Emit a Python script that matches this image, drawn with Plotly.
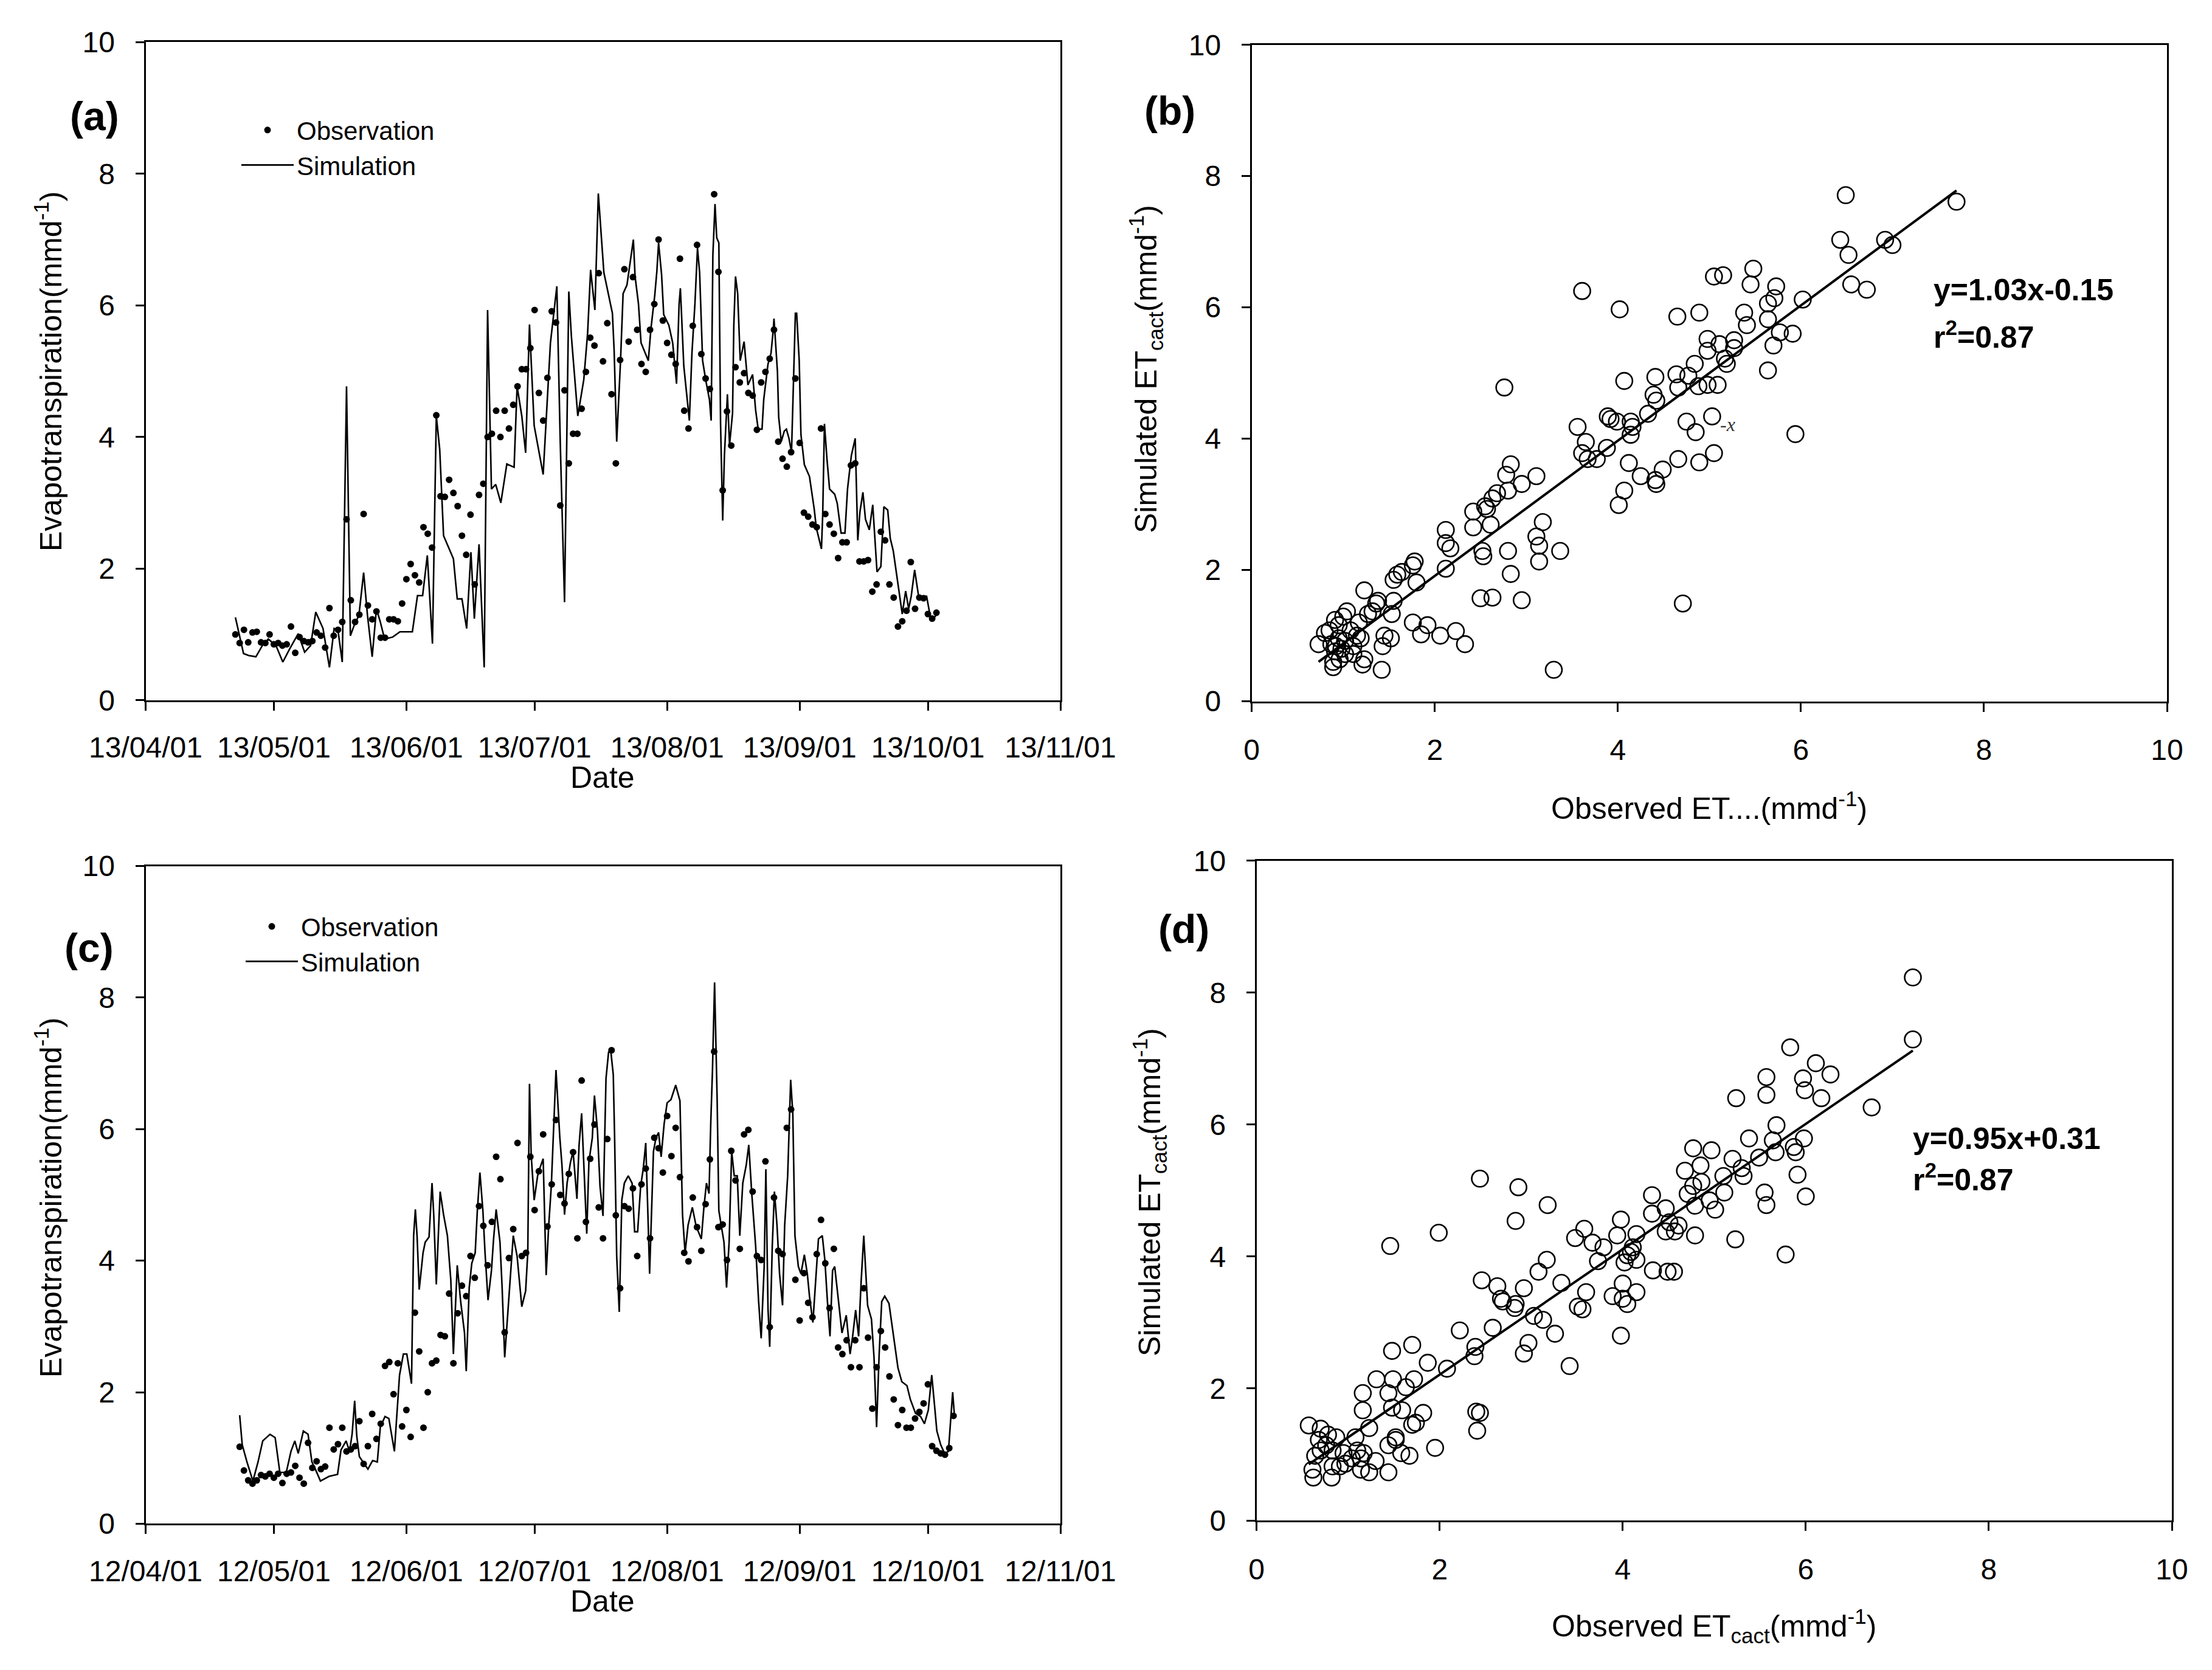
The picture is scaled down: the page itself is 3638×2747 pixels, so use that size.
import plotly.graph_objects as go
import pandas as pd

# ---------------- data ----------------
# (a) 2013 daily observations, starting 2013-04-22
obs_a_start = "2013-04-22"
obs_a = [1.0,0.87,1.07,0.88,1.03,1.04,0.88,0.87,1.0,0.85,
         0.87,0.83,0.85,1.12,0.72,0.96,0.9,0.88,0.9,1.03,
         0.98,0.8,1.4,0.98,1.07,1.19,2.75,1.52,1.19,1.3,
         2.83,1.44,1.23,1.35,0.95,0.95,1.23,1.23,1.2,1.47,
         1.84,2.07,1.9,1.79,2.63,2.53,2.32,4.33,3.1,3.09,
         3.35,3.15,2.95,2.5,2.21,2.82,1.76,3.12,3.29,4.0,
         4.05,4.4,4.0,4.4,4.13,4.49,4.77,5.03,5.03,5.35,
         5.93,4.67,4.25,4.9,5.91,5.74,2.96,4.71,3.6,4.05,
         4.05,4.43,4.99,5.51,5.39,6.49,5.15,5.73,4.65,3.6,
         5.17,6.55,5.45,6.43,5.63,5.11,4.99,5.63,6.02,7.0,
         5.77,5.43,5.25,5.11,6.71,4.4,4.13,5.69,6.92,5.26,
         4.89,4.73,7.69,6.51,3.19,4.39,3.87,5.06,4.83,4.97,
         4.67,4.63,4.11,4.83,4.99,5.19,5.63,3.93,3.67,3.55,
         3.77,4.89,3.91,2.85,2.79,2.67,2.63,4.13,2.83,2.67,
         2.53,2.16,2.4,2.4,3.57,3.6,2.11,2.11,2.13,1.65,
         1.76,2.56,2.43,1.76,1.56,1.12,1.2,1.36,2.1,1.39,
         1.56,1.55,1.31,1.24,1.33]

# (a) simulation: days after 2013-04-01 and values
sim_a_base = "2013-04-01"
sim_a_day = [21.0,21.7,22.9,24.1,25.8,27.3,28.7,30.5,32.1,33.7,35.7,37.2,38.6,39.8,41.5,43.0,44.1,45.0,46.0,47.0,
             47.9,48.8,49.9,51.0,51.9,53.0,54.0,54.9,55.9,57.8,59.5,62.4,63.6,64.8,65.9,67.1,68.0,68.8,69.7,72.0,
             72.9,74.0,75.1,76.1,76.9,78.0,79.2,80.0,80.9,81.9,83.1,84.5,86.2,86.9,88.0,88.9,89.8,90.9,93.0,94.7,
             96.2,97.0,98.0,99.0,99.6,101.1,102.5,103.4,104.1,105.1,105.9,
             107.2,109.2,109.6,110.2,111.1,111.7,112.6,114.1,114.5,115.3,115.9,117.6,118.2,119.1,119.6,120.0,120.7,
             121.2,122.4,123.3,124.2,124.8,125.1,125.9,127.2,127.8,128.5,129.1,129.6,130.3,131.1,131.9,132.3,132.7,
             133.2,133.6,134.1,134.5,135.0,135.4,136.1,136.6,137.3,137.6,138.0,138.5,139.1,140.0,140.9,142.0,142.7,
             143.3,144.2,144.6,145.6,146.3,146.8,147.0,147.8,148.1,148.7,149.4,149.9,150.5,151.1,151.6,152.0,152.3,
             152.9,153.3,154.1,155.3,156.4,156.9,158.1,158.4,158.8,159.4,160.0,161.2,161.8,162.7,163.6,164.2,165.1,
             166.0,166.6,167.1,167.8,168.4,169.3,170.1,170.5,171.1,172.0,172.7,173.6,174.2,174.9,176.0,177.0,177.8,
             178.5,179.1,179.9,180.9,181.8,182.7,183.6,184.5,185.6]
sim_a = [1.26,1.06,0.71,0.68,0.66,0.83,0.93,0.83,0.58,0.78,1.01,0.73,0.83,1.34,1.09,0.5,1.09,1.06,0.58,4.77,
         0.98,1.14,1.29,1.94,1.29,0.66,1.39,1.19,0.93,0.96,1.04,1.04,1.59,1.59,2.2,0.86,4.32,3.81,2.5,2.15,
         1.54,1.54,1.09,2.25,1.24,2.37,0.5,5.93,3.21,3.28,3.0,3.59,3.54,4.77,4.32,3.76,5.71,4.17,3.43,5.43,
         6.29,3.91,1.49,6.21,5.53,4.32,4.87,5.58,6.54,5.93,7.7,
         6.5,5.88,5.32,3.93,5.16,6.18,6.31,7.0,6.44,6.02,5.43,5.16,5.64,6.15,6.52,6.95,6.47,
         5.86,5.7,5.43,4.81,6.02,6.26,5.08,4.25,5.27,6.02,6.87,6.5,5.16,4.84,4.57,4.25,6.76,
         7.54,7.03,6.95,4.2,2.73,3.72,4.65,3.88,4.36,5.7,6.44,6.18,5.16,5.45,4.79,4.95,4.41,
         4.12,4.12,4.57,5.11,5.27,5.61,5.8,5.0,4.3,3.93,4.09,4.12,3.98,3.77,5.0,5.88,5.88,
         5.16,4.04,3.58,3.4,2.91,2.62,2.3,2.83,4.2,3.66,3.21,3.13,2.99,2.54,2.54,3.21,3.72,
         3.98,2.43,2.86,3.16,2.75,2.59,2.97,2.54,1.95,2.03,2.94,2.89,2.46,2.27,1.74,1.31,1.66,
         1.39,1.58,1.98,1.55,1.58,1.58,1.26,1.26,1.34]

# (c) 2012 daily observations, starting 2012-04-23
obs_c_start = "2012-04-23"
obs_c = [1.17,0.81,0.66,0.61,0.66,0.74,0.72,0.76,0.70,0.76,
         0.62,0.76,0.78,0.88,0.70,0.61,1.23,0.85,0.95,0.83,
         0.87,1.46,1.13,1.21,1.46,1.10,1.13,1.18,1.56,0.91,
         1.18,1.67,1.29,1.52,2.40,2.46,1.97,2.44,1.48,1.73,
         1.32,3.21,2.62,1.46,2.0,2.44,2.48,2.87,2.85,3.50,
         2.44,3.20,3.62,3.46,4.07,3.74,4.83,4.53,3.93,4.59,
         5.58,5.24,2.91,4.04,4.48,5.79,4.07,4.12,5.58,4.77,
         5.36,5.92,4.52,5.16,6.14,5.0,4.87,5.32,5.65,4.34,
         6.74,4.59,5.55,6.07,4.81,4.34,5.85,7.20,4.69,3.58,
         4.83,4.79,5.10,4.07,5.16,5.40,4.34,5.87,5.71,5.34,
         6.20,5.59,6.02,5.27,4.12,3.99,4.96,4.51,4.15,4.86,
         5.54,7.18,4.51,4.55,4.01,5.67,5.22,4.18,5.92,5.99,
         5.05,4.07,4.01,5.51,2.99,4.96,4.15,4.10,6.02,6.30,
         3.71,3.09,3.81,3.36,3.14,4.10,4.62,3.96,3.28,4.18,
         2.68,2.58,2.79,2.38,2.79,2.38,3.58,2.83,1.75,2.38,
         2.93,2.68,2.24,1.89,1.50,1.73,1.46,1.46,1.60,1.70,
         1.83,2.12,1.18,1.11,1.07,1.05,1.15,1.64]

# (c) simulation: days after 2012-04-01 and values
sim_c_base = "2012-04-01"
sim_c_day = [22.0,22.6,23.7,25.1,26.3,27.4,29.1,30.3,31.4,32.9,34.0,34.9,35.7,36.9,38.0,38.9,39.7,40.9,42.9,44.9,
             45.7,46.9,47.7,48.3,48.9,49.4,50.0,51.1,52.0,53.1,54.2,54.9,56.0,56.9,58.2,59.4,60.3,61.1,62.2,62.7,
             63.1,63.5,64.0,64.9,65.4,66.3,67.0,67.4,68.0,68.9,69.7,70.6,71.4,72.0,72.9,73.7,74.6,75.0,75.7,76.3,
             77.1,77.6,78.2,78.9,79.4,80.1,80.9,81.4,82.0,82.9,83.4,84.0,84.5,85.2,86.0,86.9,88.0,88.9,89.4,89.8,
             90.2,90.9,91.7,92.3,93.0,93.7,94.3,94.9,95.4,96.0,96.9,97.4,98.0,98.6,99.4,100.0,100.9,101.4,102.0,
             102.6,103.2,103.7,104.5,105.0,105.7,106.3,107.0,107.7,108.3,
             108.8,109.4,109.7,110.2,110.8,111.4,112.0,112.9,113.8,114.4,115.1,115.8,116.4,117.0,117.6,117.9,118.8,
             119.4,120.0,120.6,121.3,122.0,122.9,124.0,125.0,125.6,126.2,126.9,127.9,128.8,130.0,130.6,131.2,131.8,
             132.2,132.6,133.1,133.7,134.1,135.3,135.9,136.5,137.1,137.7,138.4,139.0,139.7,140.5,141.1,141.8,142.7,
             143.4,144.0,144.7,145.1,145.6,146.0,146.6,147.1,147.7,148.3,149.0,149.5,150.2,150.9,151.4,151.9,152.7,
             153.3,154.1,154.8,155.3,156.1,156.8,157.4,158.3,158.9,159.5,160.1,160.7,161.2,162.1,162.9,163.9,164.8,
             165.4,166.1,166.8,167.4,168.0,168.9,169.8,170.4,171.0,171.6,172.2,172.9,173.9,174.8,176.0,176.9,178.1,
             178.9,180.1,181.3,182.2,183.1,183.9,184.5,185.1,186.0,186.9,187.8,188.4,188.8,189.2]
sim_c = [1.65,1.20,0.94,0.65,0.94,1.26,1.36,1.31,0.78,0.78,1.10,1.26,1.07,1.41,1.36,0.94,0.83,0.65,0.72,0.75,
         1.12,1.26,1.10,1.36,1.87,1.33,1.02,0.91,0.83,0.96,0.94,1.47,1.63,1.60,1.10,2.26,2.58,2.58,2.13,4.38,
         4.78,4.38,3.56,4.12,4.28,4.36,5.18,4.70,3.64,5.05,4.70,4.38,3.70,2.58,3.93,3.38,2.90,2.32,3.59,3.96,
         4.12,4.76,5.34,4.76,4.12,3.40,3.85,4.33,4.78,4.28,3.59,2.53,3.01,3.59,4.38,4.07,3.30,3.54,4.12,6.69,
         5.60,4.92,5.29,5.42,5.55,3.78,4.54,5.13,5.92,6.90,5.87,5.45,4.70,5.18,5.50,5.66,4.94,5.76,6.24,
         5.39,4.41,5.50,5.87,6.51,5.98,5.13,4.68,6.77,7.17,
         7.20,6.83,5.92,4.07,3.22,4.92,5.18,5.29,5.18,4.44,4.44,5.13,5.39,5.79,4.49,3.80,5.66,
         5.87,5.95,5.58,6.08,6.40,6.45,6.67,6.43,4.70,4.12,4.54,4.81,4.52,4.33,4.81,5.18,5.02,
         6.08,6.88,8.23,6.45,4.76,4.28,3.59,4.28,5.66,5.29,5.29,4.38,5.18,5.45,5.76,5.02,4.23,
         3.38,2.82,3.91,5.39,3.27,2.69,4.23,5.05,4.54,3.80,3.32,4.54,5.29,6.75,6.24,4.38,3.91,
         3.80,4.09,3.80,3.46,3.06,3.80,4.33,4.38,4.01,3.38,2.85,3.85,3.91,3.38,2.90,3.17,2.58,
         2.85,3.25,2.85,3.70,4.38,3.32,3.11,2.53,1.47,2.58,3.38,3.46,3.35,2.95,2.37,2.16,2.10,
         1.89,1.68,1.63,1.52,1.73,2.26,1.84,1.41,1.20,1.07,1.10,1.63,2.0,1.65]

# (b) scatter: observed vs simulated (2013)
obs_b = [6.49,7.70,6.43,6.52,6.92,7.0,6.55,6.72,5.48,5.45,5.05,5.15,5.73,5.71,5.64,6.02,3.61,4.02,4.65,4.89,
         5.38,5.41,5.64,5.77,5.91,5.70,4.98,5.27,5.11,5.27,4.98,5.19,5.17,4.84,5.64,4.41,4.64,4.77,4.07,4.98,
         4.88,5.09,4.66,2.76,4.39,4.42,4.33,3.89,3.92,3.99,4.14,4.16,4.14,4.75,5.03,4.85,5.94,3.56,3.65,3.61,
         3.67,3.77,3.88,5.05,4.66,4.89,4.12,4.49,4.25,4.41,4.42,4.07,4.01,2.83,2.78,3.11,2.95,2.80,2.68,2.63,
         2.55,2.57,2.42,2.42,2.61,3.18,3.11,3.14,3.14,3.37,2.80,2.83,2.52,2.53,2.12,2.12,2.17,2.12,2.50,2.63,
         2.95,3.30,4.71,1.78,1.76,1.64,1.59,1.80,1.55,1.55,1.53,1.23,1.38,1.36,1.32,1.27,1.76,1.92,1.85,2.06,
         2.23,2.33,1.45,1.52,1.43,1.42,1.19,1.23,1.21,1.04,1.0,0.95,0.91,0.95,1.02,1.11,1.02,1.11,0.91,0.96,
         0.89,0.89,0.80,0.73,0.85,0.87,1.08,1.15,0.98,1.17,0.92]
sim_b = [7.71,7.61,7.03,6.80,7.03,6.95,6.35,6.27,6.59,6.35,6.47,6.49,6.32,6.14,6.06,6.12,6.25,5.97,5.86,5.92,
         5.92,5.73,5.82,5.62,5.60,5.42,5.52,5.50,5.44,5.38,5.34,5.14,5.22,5.14,5.04,4.94,4.98,4.96,4.88,4.82,
         4.80,4.82,4.78,4.78,4.67,4.58,4.38,4.34,4.30,4.26,4.26,4.18,4.06,4.26,4.34,4.10,4.07,4.18,3.95,3.78,
         3.69,3.69,3.86,3.78,3.69,3.64,3.63,3.53,3.43,3.37,3.31,3.21,2.99,3.61,3.45,3.43,3.31,3.21,3.17,3.09,
         2.97,2.93,2.89,2.65,2.69,2.73,2.51,2.37,2.13,2.29,2.29,1.94,2.29,2.21,2.61,2.41,2.33,2.02,1.57,1.58,
         1.54,0.48,1.49,2.13,2.07,1.97,1.93,1.81,1.85,1.53,1.33,1.69,1.53,1.49,1.37,1.33,1.20,1.16,1.02,1.00,
         1.07,0.87,1.00,0.96,0.84,0.48,0.96,0.64,0.56,1.37,1.29,1.16,1.24,0.96,0.92,0.84,0.72,0.72,0.76,0.64,
         0.60,0.52,1.04,0.87,1.08,0.87,1.08,1.00,0.80,1.20,0.84]

# (d) scatter: observed vs simulated (2012)
obs_d = [7.17,7.17,5.83,6.11,6.27,5.57,5.97,5.99,5.57,6.17,5.24,6.72,5.68,5.38,5.98,5.64,5.87,5.89,4.97,4.77,
         5.20,5.49,5.67,4.85,5.30,4.68,5.10,5.32,5.91,4.86,4.77,5.11,5.55,4.71,4.32,6.0,4.95,4.79,5.57,5.01,
         4.47,4.32,2.44,2.86,3.18,2.83,1.99,1.46,3.98,4.51,4.61,4.57,4.47,4.15,3.94,3.58,3.48,4.79,5.23,3.67,
         3.79,4.11,4.09,4.05,4.15,4.02,3.73,5.78,3.17,3.08,4.33,4.56,4.49,2.46,2.63,2.92,3.33,3.60,4.0,4.15,
         2.67,2.69,2.83,2.82,3.51,3.56,3.89,4.0,4.05,3.03,3.13,3.26,3.98,2.58,2.22,2.97,2.92,3.42,2.39,2.38,
         1.70,1.48,1.87,2.08,1.31,1.49,1.72,1.63,1.16,1.44,1.48,1.59,1.82,1.16,2.40,2.44,2.41,1.74,1.70,1.23,
         1.52,1.08,0.57,0.70,0.78,0.87,0.68,0.76,0.83,0.64,0.70,0.95,1.10,1.17,1.44,1.52,1.95,1.67,1.58,0.61,
         0.62,0.82,0.83,0.97,1.14,1.23,1.30,1.44,1.14,0.91,1.04]
sim_d = [8.23,7.29,7.17,6.93,6.76,6.72,6.70,6.52,6.45,6.40,6.40,6.26,5.99,5.79,5.79,5.76,5.66,5.58,5.61,5.64,
         5.48,5.50,5.58,5.38,5.34,5.30,5.22,5.22,5.24,5.13,5.07,4.97,4.97,4.95,4.93,4.91,4.85,4.77,4.78,4.71,
         4.73,4.65,5.18,5.05,4.78,4.54,4.36,4.16,4.56,4.52,4.47,4.38,4.38,4.34,4.32,4.42,4.28,4.32,4.26,4.21,
         4.14,4.14,4.07,4.02,3.95,3.91,3.93,4.03,3.95,3.77,3.79,3.77,3.77,3.64,3.55,3.52,3.60,3.46,3.59,3.46,
         3.36,3.32,3.28,3.22,3.24,3.20,3.40,3.36,3.28,3.10,3.04,2.83,2.80,2.92,2.88,2.69,2.53,2.34,2.63,2.49,
         2.66,2.57,2.39,2.30,2.14,2.14,2.14,2.02,1.93,1.93,1.71,1.67,1.63,1.67,1.65,1.63,1.36,1.48,1.45,1.40,
         1.26,1.26,1.44,1.39,1.30,1.26,1.22,1.14,1.06,0.98,1.06,1.02,1.06,1.02,1.14,1.22,1.10,0.98,1.02,0.77,
         0.65,0.65,0.82,0.86,0.77,0.73,0.90,0.73,0.94,0.82,0.94]

# regression equations shown on the chart
fit_b_slope, fit_b_intercept = 1.03, -0.15
fit_d_slope, fit_d_intercept = 0.95, 0.31

# tick values / labels
month_ticks_a = ["2013-04-01","2013-05-01","2013-06-01","2013-07-01","2013-08-01","2013-09-01","2013-10-01","2013-11-01"]
month_labels_a = ["13/04/01","13/05/01","13/06/01","13/07/01","13/08/01","13/09/01","13/10/01","13/11/01"]
month_ticks_c = ["2012-04-01","2012-05-01","2012-06-01","2012-07-01","2012-08-01","2012-09-01","2012-10-01","2012-11-01"]
month_labels_c = ["12/04/01","12/05/01","12/06/01","12/07/01","12/08/01","12/09/01","12/10/01","12/11/01"]
value_ticks = [0, 2, 4, 6, 8, 10]

# ---------------- derived ----------------
obs_a_dates = pd.date_range(obs_a_start, periods=len(obs_a), freq="D")
obs_c_dates = pd.date_range(obs_c_start, periods=len(obs_c), freq="D")
sim_a_dates = [pd.Timestamp(sim_a_base) + pd.Timedelta(days=d) for d in sim_a_day]
sim_c_dates = [pd.Timestamp(sim_c_base) + pd.Timedelta(days=d) for d in sim_c_day]

fit_b_x = [min(obs_b), max(obs_b)]
fit_b_y = [fit_b_slope * v + fit_b_intercept for v in fit_b_x]
fit_d_x = [min(obs_d), max(obs_d)]
fit_d_y = [fit_d_slope * v + fit_d_intercept for v in fit_d_x]

W, H = 3638, 2747
FONT = "Liberation Sans, Arial, sans-serif"

def px(x):
    return x / W

def py(y):
    return 1 - y / H

fig = go.Figure()

# (a)
fig.add_trace(go.Scatter(x=sim_a_dates, y=sim_a, mode="lines", name="Simulation",
                         line=dict(color="black", width=2.6), xaxis="x", yaxis="y",
                         legend="legend", legendrank=2))
fig.add_trace(go.Scatter(x=obs_a_dates, y=obs_a, mode="markers", name="Observation",
                         marker=dict(color="black", size=11), xaxis="x", yaxis="y",
                         legend="legend", legendrank=1))
# (b)
fig.add_trace(go.Scatter(x=obs_b, y=sim_b, mode="markers", showlegend=False,
                         marker=dict(symbol="circle-open", size=27, color="black", line=dict(width=2.6)),
                         xaxis="x2", yaxis="y2"))
fig.add_trace(go.Scatter(x=fit_b_x, y=fit_b_y, mode="lines", showlegend=False,
                         line=dict(color="black", width=4), xaxis="x2", yaxis="y2"))
# (c)
fig.add_trace(go.Scatter(x=sim_c_dates, y=sim_c, mode="lines", name="Simulation",
                         line=dict(color="black", width=2.6), xaxis="x3", yaxis="y3",
                         legend="legend2", legendrank=2))
fig.add_trace(go.Scatter(x=obs_c_dates, y=obs_c, mode="markers", name="Observation",
                         marker=dict(color="black", size=11), xaxis="x3", yaxis="y3",
                         legend="legend2", legendrank=1))
# (d)
fig.add_trace(go.Scatter(x=obs_d, y=sim_d, mode="markers", showlegend=False,
                         marker=dict(symbol="circle-open", size=27, color="black", line=dict(width=2.6)),
                         xaxis="x4", yaxis="y4"))
fig.add_trace(go.Scatter(x=fit_d_x, y=fit_d_y, mode="lines", showlegend=False,
                         line=dict(color="black", width=4), xaxis="x4", yaxis="y4"))

axis_common = dict(showline=True, linecolor="black", linewidth=3, mirror=True,
                   ticks="outside", ticklen=14, tickwidth=3, tickcolor="black",
                   showgrid=False, zeroline=False, automargin=False,
                   tickfont=dict(family=FONT, size=48, color="black"))

ydef = dict(axis_common, range=[0, 10], tickvals=value_ticks, ticklabelstandoff=24)
xval = dict(axis_common, range=[0, 10], tickvals=value_ticks, ticklabelstandoff=22)

fig.update_layout(
    template="none",
    width=W, height=H,
    margin=dict(l=0, r=0, t=0, b=0, pad=0, autoexpand=False),
    paper_bgcolor="white", plot_bgcolor="white",
    font=dict(family=FONT, color="black"),
    xaxis=dict(axis_common, type="date", range=[month_ticks_a[0], month_ticks_a[-1]],
               tickvals=month_ticks_a, ticktext=month_labels_a, ticklabelstandoff=20,
               domain=[px(239.5), px(1744)], anchor="y"),
    yaxis=dict(ydef, domain=[py(1151.8), py(69.4)], anchor="x"),
    xaxis2=dict(xval, domain=[px(2058.7), px(3564)], anchor="y2"),
    yaxis2=dict(ydef, domain=[py(1153.6), py(73.7)], anchor="x2"),
    xaxis3=dict(axis_common, type="date", range=[month_ticks_c[0], month_ticks_c[-1]],
                tickvals=month_ticks_c, ticktext=month_labels_c, ticklabelstandoff=20,
                domain=[px(239.5), px(1744)], anchor="y3"),
    yaxis3=dict(ydef, domain=[py(2506.4), py(1424.6)], anchor="x3"),
    xaxis4=dict(xval, domain=[px(2066.7), px(3572)], anchor="y4"),
    yaxis4=dict(ydef, domain=[py(2501), py(1415.7)], anchor="x4"),
    legend=dict(x=px(392), y=py(180), xanchor="left", yanchor="top",
                font=dict(family=FONT, size=42, color="black"), bgcolor="rgba(0,0,0,0)",
                borderwidth=0, tracegroupgap=0, itemwidth=86),
    legend2=dict(x=px(399), y=py(1490), xanchor="left", yanchor="top",
                 font=dict(family=FONT, size=42, color="black"), bgcolor="rgba(0,0,0,0)",
                 borderwidth=0, tracegroupgap=0, itemwidth=86),
)

ann = []
def A(text, x, y, size, bold=False, angle=0, xanchor="center", yanchor="middle"):
    t = f"<b>{text}</b>" if bold else text
    ann.append(dict(text=t, x=px(x), y=py(y), xref="paper", yref="paper", showarrow=False,
                    textangle=angle, xanchor=xanchor, yanchor=yanchor,
                    font=dict(family=FONT, size=size, color="black")))

# panel labels
A("(a)", 155, 191, 66, bold=True)
A("(b)", 1924, 182, 66, bold=True)
A("(c)", 146, 1559, 66, bold=True)
A("(d)", 1947, 1528, 66, bold=True)
# axis titles
A("Evapotranspiration(mmd<sup>-1</sup>)", 80, 611, 50, angle=-90)
A("Date", 991, 1279, 50)
A("Simulated ET<sub>cact</sub>(mmd<sup>-1</sup>)", 1884, 607, 50, angle=-90)
A("Observed ET....(mmd<sup>-1</sup>)", 2811, 1326, 50)
A("Evapotranspiration(mmd<sup>-1</sup>)", 80, 1970, 50, angle=-90)
A("Date", 991, 2634, 50)
A("Simulated ET<sub>cact</sub>(mmd<sup>-1</sup>)", 1890, 1961, 50, angle=-90)
A("Observed ET<sub>cact</sub>(mmd<sup>-1</sup>)", 2819, 2674, 50)
# equations
A("y=1.03x-0.15", 3178, 477, 50, bold=True, xanchor="left")
A("r<sup>2</sup>=0.87", 3178, 551, 50, bold=True, xanchor="left")
A("y=0.95x+0.31", 3144, 1873, 50, bold=True, xanchor="left")
A("r<sup>2</sup>=0.87", 3144, 1937, 50, bold=True, xanchor="left")
# stray mark in (b)
ann.append(dict(text="-<i>x</i>", x=5.2, y=4.22, xref="x2", yref="y2", showarrow=False,
                font=dict(family="Liberation Serif, serif", size=32, color="#333")))

fig.update_layout(annotations=ann)

fig.write_html("out.html", config={"displayModeBar": False},
               post_script="document.body.style.margin='0';")
